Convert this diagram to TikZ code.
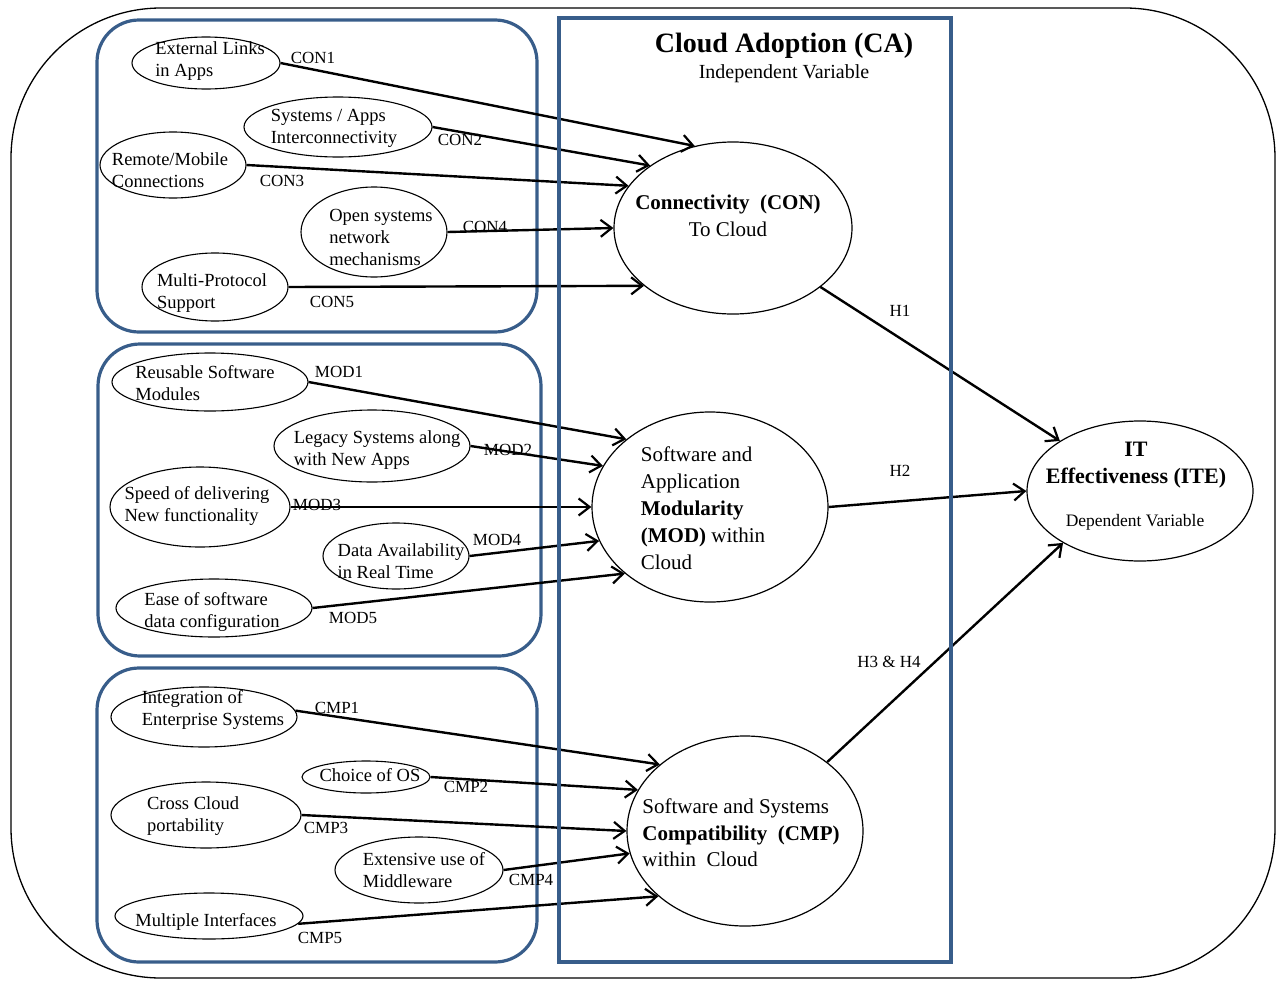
\documentclass[tikz,border=0pt]{standalone}
\usepackage{fontspec}
\setmainfont{Liberation Serif}
\usetikzlibrary{arrows.meta,shapes.geometric}
\definecolor{boxblue}{RGB}{56,93,138}
\begin{document}
\begin{tikzpicture}[x=1pt,y=-1pt,
 sm/.style={draw, ellipse, line width=1.1pt, inner sep=0pt},
 big/.style={draw, ellipse, line width=1.2pt, inner sep=0pt},
 stxt/.style={align=left, font=\fontsize{18.5}{22}\selectfont, inner sep=0pt},
 mtxt/.style={font=\fontsize{21}{26.5}\selectfont, inner sep=0pt},
 lbl/.style={font=\fontsize{17}{20}\selectfont, inner sep=0pt},
 arr/.style={line width=2.4pt, -{Straight Barb[length=11pt,width=17pt,line width=2.2pt]}},
 grp/.style={draw=boxblue, line width=3.2pt, rounded corners=42pt},
]
\useasboundingbox (0,0) rectangle (1277,980);
% outer frame
\draw[line width=1.3pt, rounded corners=150pt] (11,8) rectangle (1275,978);
% group boxes
\draw[grp] (97,20) rectangle (537,332);
\draw[grp] (98,344) rectangle (541,656);
\draw[grp] (97,668) rectangle (537,962);

% small ellipses
\node[sm, minimum width=148pt, minimum height=52pt] (e1) at (206,63) {};
\node[sm, minimum width=188pt, minimum height=60pt] (e2) at (338,127) {};
\node[sm, minimum width=146pt, minimum height=66pt] (e3) at (173,165) {};
\node[sm, minimum width=146pt, minimum height=90pt] (e4) at (374,232) {};
\node[sm, minimum width=146pt, minimum height=68pt] (e5) at (215,287) {};
\node[sm, minimum width=196pt, minimum height=58pt] (m1) at (210,382) {};
\node[sm, minimum width=196pt, minimum height=72pt] (m2) at (372,446) {};
\node[sm, minimum width=180pt, minimum height=80pt] (m3) at (200,507) {};
\node[sm, minimum width=146pt, minimum height=66pt] (m4) at (396,556) {};
\node[sm, minimum width=196pt, minimum height=58pt] (m5) at (214,608) {};
\node[sm, minimum width=186pt, minimum height=60pt] (c1) at (204,717) {};
\node[sm, minimum width=128pt, minimum height=32pt] (c2) at (366,777) {};
\node[sm, minimum width=190pt, minimum height=66pt] (c3) at (206,815) {};
\node[sm, minimum width=168pt, minimum height=66pt] (c4) at (419,870) {};
\node[sm, minimum width=188pt, minimum height=46pt] (c5) at (209,916) {};

% texts of small ellipses
\node[stxt] (e1t) at (210,61) {External Links\\in Apps};
\node[stxt] (e2t) at (334,128) {Systems / Apps\\Interconnectivity};
\node[stxt] (e3t) at (170,170) {Remote/Mobile\\Connections};
\node[stxt] (e4t) at (381,237) {Open systems\\network\\mechanisms};
\node[stxt] (e5t) at (212,293) {Multi-Protocol\\Support};
\node[stxt] (m1t) at (205,383) {Reusable Software\\Modules};
\node[stxt] (m2t) at (377,450) {Legacy Systems along\\with New Apps};
\node[stxt] (m3t) at (197,506) {Speed of delivering\\New functionality};
\node[stxt] (m4t) at (401,561) {Data Availability\\in Real Time};
\node[stxt] (m5t) at (212,612) {Ease of software\\data configuration};
\node[stxt] (c1t) at (213,710) {Integration of\\Enterprise Systems};
\node[stxt] (c2t) at (370,775) {Choice of OS};
\node[stxt] (c3t) at (193,816) {Cross Cloud\\portability};
\node[stxt] (c4t) at (424,870) {Extensive use of\\Middleware};
\node[stxt] (c5t) at (206,922) {Multiple Interfaces};

% main ellipses
\node[big, minimum width=238pt, minimum height=172pt] (con) at (733,228) {};
\node[big, minimum width=236pt, minimum height=190pt] (mod) at (710,507) {};
\node[big, minimum width=236pt, minimum height=190pt] (cmp) at (745,831) {};
\node[big, minimum width=226pt, minimum height=140pt] (ite) at (1140,491) {};

\node[mtxt, align=center] (cont) at (728,216) {\textbf{Connectivity\ \ (CON)}\\To Cloud};
\node[mtxt, align=left, font=\fontsize{21}{27}\selectfont] (modt) at (703,508) {Software and\\Application\\\textbf{Modularity}\\\textbf{(MOD)} within\\Cloud};
\node[mtxt, align=left] (cmpt) at (741,833) {Software and Systems\\\textbf{Compatibility\ \ (CMP)}\\within\ \ Cloud};
\node[align=center, inner sep=0pt, font=\fontsize{22}{27}\selectfont\bfseries] (itet) at (1136,465) {IT\\Effectiveness (ITE)};
\node[inner sep=0pt, font=\fontsize{17.5}{20}\selectfont] (ited) at (1135,522) {Dependent Variable};

% title
\node[inner sep=0pt, font=\fontsize{28}{32}\selectfont\bfseries] (catitle) at (784,46) {Cloud Adoption (CA)};
\node[inner sep=0pt, font=\fontsize{20}{24}\selectfont] (casub) at (784,74) {Independent Variable};

% labels
\node[lbl] (l1) at (313,58) {CON1};
\node[lbl] (l2) at (460,140) {CON2};
\node[lbl] (l3) at (282,181) {CON3};
\node[lbl] (l4) at (485,227) {CON4};
\node[lbl] (l5) at (332,302) {CON5};
\node[lbl] (k1) at (339,372) {MOD1};
\node[lbl] (k2) at (508,450) {MOD2};
\node[lbl] (k3) at (317,505) {MOD3};
\node[lbl] (k4) at (497,540) {MOD4};
\node[lbl] (k5) at (353,618) {MOD5};
\node[lbl] (p1) at (337,708) {CMP1};
\node[lbl] (p2) at (466,787) {CMP2};
\node[lbl] (p3) at (326,828) {CMP3};
\node[lbl] (p4) at (531,880) {CMP4};
\node[lbl] (p5) at (320,938) {CMP5};
\node[lbl] (h1) at (900,311) {H1};
\node[lbl] (h2) at (900,471) {H2};
\node[lbl] (h3) at (889,662) {H3 \& H4};

% connectors
\draw[arr] (e1.east) -- (con.115);
\draw[arr] (e2.east) -- (con.143);
\draw[arr] (e3.east) -- (con.158);
\draw[arr] (e4.east) -- (con.180);
\draw[arr] (e5.east) -- (con.213);
\draw[arr] (m1.east) -- (mod.141);
\draw[arr] (m2.east) -- (mod.159);
\draw[arr] (m3.east) -- (mod.180);
\draw[arr] (m4.east) -- (mod.197);
\draw[arr] (m5.east) -- (mod.218);
\draw[arr] (c1.4) -- (cmp.142);
\draw[arr] (c2.east) -- (cmp.159);
\draw[arr] (c3.east) -- (cmp.180);
\draw[arr] (c4.east) -- (cmp.191);
\draw[arr] (c5.-5) -- (cmp.217);
\draw[arr] (con.-34) -- (ite.148);
\draw[arr] (mod.east) -- (ite.180);
\draw[arr] (cmp.40) -- (ite.214);

% CA frame
\draw[draw=boxblue, line width=3.2pt] (559,18) rectangle (951,962);
\end{tikzpicture}
\end{document}
